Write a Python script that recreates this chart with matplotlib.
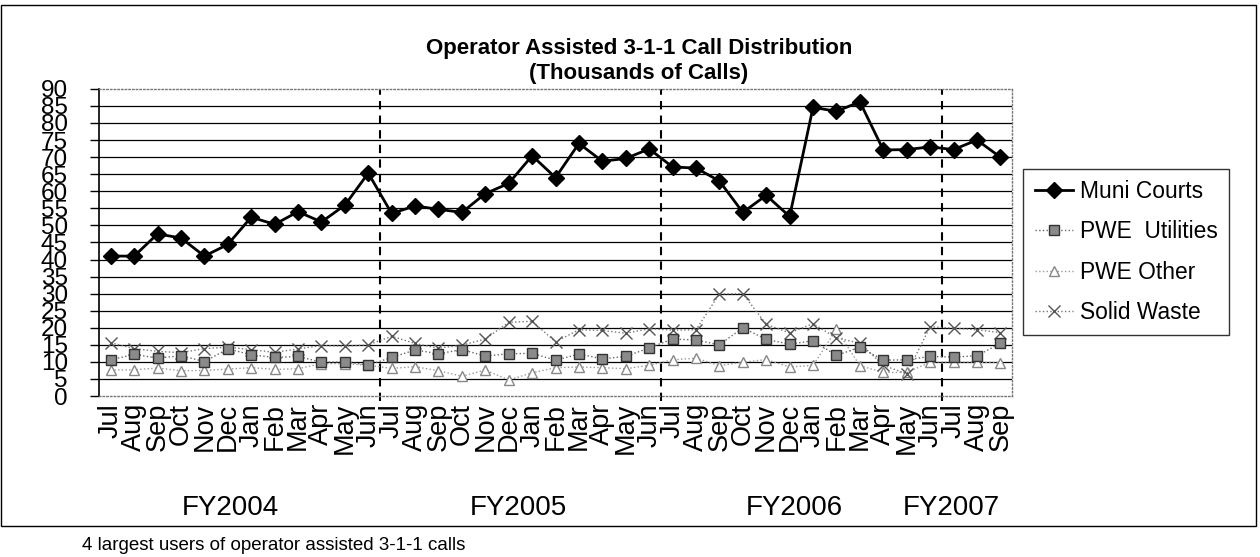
import matplotlib
matplotlib.use("Agg")
import matplotlib.pyplot as plt
from matplotlib.patches import Rectangle
from matplotlib.transforms import blended_transform_factory

plt.rcParams['font.family'] = ['Liberation Sans', 'DejaVu Sans']

# monthly call counts, thousands, Jul 2003 - Sep 2006
months = ["Jul", "Aug", "Sep", "Oct", "Nov", "Dec",
          "Jan", "Feb", "Mar", "Apr", "May", "Jun"] * 3 + ["Jul", "Aug", "Sep"]

muni_courts = [41, 41, 47.5, 46.3, 41, 44.4, 52.4, 50.3, 54, 51, 55.9, 65.3,
               53.5, 55.7, 54.7, 53.8, 59.3, 62.3, 70.4, 64, 74, 68.8, 69.6, 72.4,
               67.1, 66.8, 63, 53.8, 58.8, 52.6, 84.6, 83.4, 86.2, 72.1, 72.2, 73,
               72.2, 75, 70]
pwe_utilities = [10.6, 12.2, 11.1, 11.8, 10.1, 13.8, 12.1, 11.3, 11.6, 9.9, 10.0, 9.1,
                 11.3, 13.5, 12.4, 13.6, 11.7, 12.4, 12.5, 10.5, 12.3, 10.9, 11.6, 14.1,
                 16.7, 16.4, 15.0, 20, 16.6, 15.2, 16.2, 11.9, 14.3, 10.5, 10.6, 11.6,
                 11.4, 11.8, 15.4]
pwe_other = [7.6, 7.7, 8.2, 7.4, 7.5, 7.9, 8.3, 7.8, 8.0, 9.5, 9.5, 9.0,
             8.1, 8.6, 7.4, 5.8, 7.6, 4.7, 6.8, 8.3, 8.5, 8.3, 8.0, 9.0,
             10.6, 11.1, 8.9, 9.9, 10.7, 8.5, 9.0, 19.5, 8.9, 6.9, 6.9, 9.9,
             10.0, 9.9, 9.8]
solid_waste = [15.6, 13.9, 13.1, 12.7, 13.9, 14.3, 13.6, 12.8, 13.8, 14.8, 14.6, 15.0,
               17.5, 15.4, 14.0, 14.9, 16.7, 21.6, 21.9, 15.9, 19.4, 19.2, 18.4, 19.7,
               19.3, 19.4, 29.9, 30.0, 21.0, 18.5, 21.2, 17.0, 15.5, 9.0, 6.5, 20.3,
               19.9, 19.4, 18.6]

fiscal_years = ["FY2004", "FY2005", "FY2006", "FY2007"]
fy_pos = [5.1, 17.4, 29.2, 35.9]
year_breaks = [11.5, 23.5, 35.5]

x = list(range(len(months)))

fig = plt.figure(figsize=(12.6, 5.57), dpi=100)
ax = fig.add_axes([0.0786, 0.289, 0.7246, 0.5515])

ax.plot(x, muni_courts, color='black', lw=2, marker='D', ms=8,
        mfc='black', mec='black', label='Muni Courts', zorder=5)
ax.plot(x, pwe_utilities, color='#666666', lw=1, ls=':', marker='s', ms=7,
        mfc='#8a8a8a', mec='#333333', label='PWE  Utilities', zorder=4)
ax.plot(x, pwe_other, color='#999999', lw=1, ls=':', marker='^', ms=7,
        mfc='white', mec='#888888', label='PWE Other', zorder=3)
ax.plot(x, solid_waste, color='#777777', lw=1, ls=':', marker='x', ms=8,
        mec='#555555', mew=1, label='Solid Waste', zorder=3)

# fiscal year separators
for b in year_breaks:
    ax.plot([b, b], [-1.5, 90], color='black', ls=(0, (4, 3)), lw=1.5,
            clip_on=False, zorder=2)

for v in range(5, 90, 5):
    ax.axhline(v, color='black', lw=0.9, zorder=1)

ax.set_xlim(-0.5, len(months) - 0.5)
ax.set_ylim(0, 90)
ax.set_yticks(range(0, 91, 5))
ax.set_xticks(x)
ax.set_xticklabels(months, rotation=90, fontsize=19.5)
ax.tick_params(axis='x', length=0, pad=5)
ax.tick_params(axis='y', labelsize=17.5, length=6.5, width=1, pad=16)

ax.spines['left'].set_color('black')
ax.spines['left'].set_linewidth(1.2)
for side in ['top', 'right', 'bottom']:
    ax.spines[side].set_color('#777777')
    ax.spines[side].set_linestyle(':')
    ax.spines[side].set_linewidth(1)

# fiscal year captions under the month labels
trans = blended_transform_factory(ax.transData, fig.transFigure)
for label, pos in zip(fiscal_years, fy_pos):
    ax.text(pos, 1 - 508 / 557, label, transform=trans, ha='center',
            va='center', fontsize=20)

fig.text(639 / 1260, 1 - 61 / 557,
         "Operator Assisted 3-1-1 Call Distribution\n(Thousands of Calls)",
         ha='center', va='center', fontsize=16, fontweight='bold',
         linespacing=1.2)

leg = ax.legend(loc='upper left', bbox_to_anchor=(0.812, 0.6966),
                bbox_transform=fig.transFigure, fontsize=16.4,
                handlelength=1.7, handletextpad=0.3, labelspacing=0.75,
                borderpad=0.5, borderaxespad=0, fancybox=False, frameon=True)
leg.get_frame().set_edgecolor('black')
leg.get_frame().set_linewidth(1)

fig.patches.append(Rectangle((1 / 1260, 1 - 526 / 557), 1255 / 1260, 521 / 557,
                             transform=fig.transFigure, fill=False,
                             ec='black', lw=1))

fig.text(82 / 1260, 1 - 546 / 557, "4 largest users of operator assisted 3-1-1 calls",
         ha='left', va='center', fontsize=13.5)

fig.savefig("out.png", dpi=100)
